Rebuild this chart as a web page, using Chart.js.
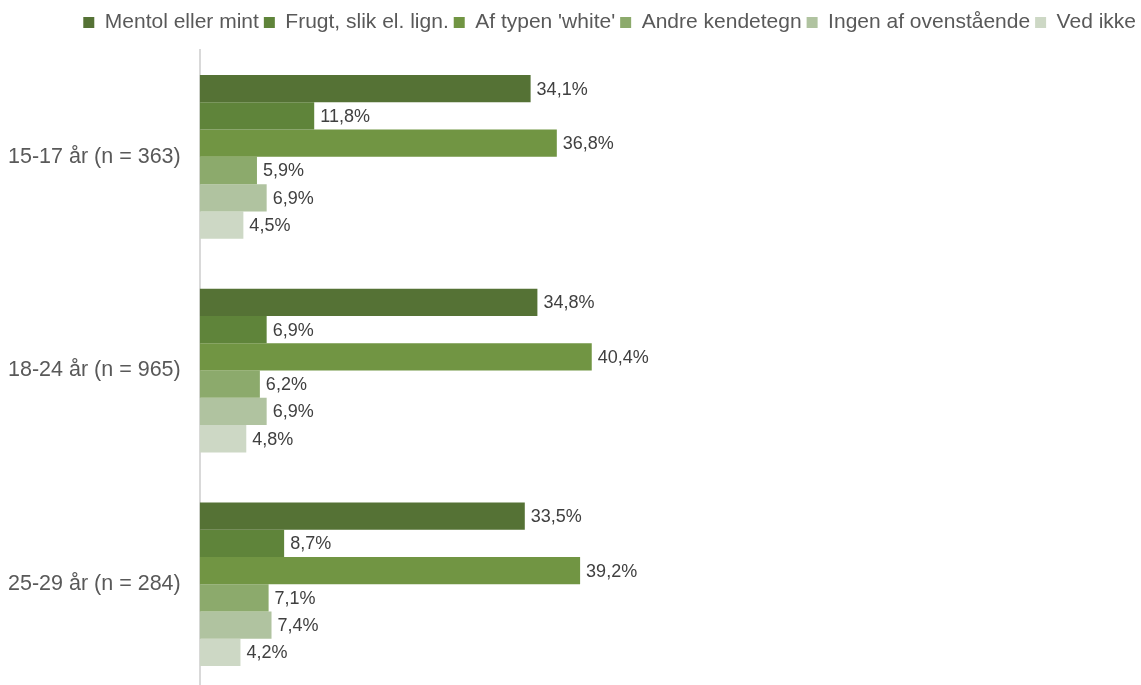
<!DOCTYPE html>
<html>
<head>
<meta charset="utf-8">
<script src="https://cdn.jsdelivr.net/npm/chart.js@4/dist/chart.umd.min.js"></script>
<style>
  html, body { margin: 0; padding: 0; background: #fff; overflow: hidden; }
  #wrap { width: 1141px; height: 715px; position: relative; }
</style>
</head>
<body>
<div id="wrap"><canvas id="myChart"></canvas></div>
<script>
'use strict';
// Kategorier og serier
const groups = ['15-17 år (n = 363)', '18-24 år (n = 965)', '25-29 år (n = 284)'];
const seriesNames = ['Mentol eller mint', 'Frugt, slik el. lign.', "Af typen 'white'", 'Andre kendetegn', 'Ingen af ovenstående', 'Ved ikke'];
const mentol = [34.1, 34.8, 33.5];
const frugt = [11.8, 6.9, 8.7];
const white = [36.8, 40.4, 39.2];
const andre = [5.9, 6.2, 7.1];
const ingen = [6.9, 6.9, 7.4];
const vedIkke = [4.5, 4.8, 4.2];
const colors = ['#557235', '#5f843a', '#719543', '#8caa6c', '#b0c3a0', '#cdd8c5'];

const allSeries = [mentol, frugt, white, andre, ingen, vedIkke];
const FONT = '"Liberation Sans", Arial, sans-serif';

// Viser procentværdier efter hver søjle
const valueLabels = {
    id: 'valueLabels',
    afterDatasetsDraw(chart) {
        const ctx = chart.ctx;
        ctx.save();
        ctx.font = '18px ' + FONT;
        ctx.fillStyle = '#404040';
        ctx.textAlign = 'left';
        ctx.textBaseline = 'middle';
        chart.data.datasets.forEach(function (ds, i) {
            chart.getDatasetMeta(i).data.forEach(function (bar, j) {
                const txt = ds.data[j].toFixed(1).replace('.', ',') + '%';
                ctx.fillText(txt, bar.x + 6, bar.y + 1);
            });
        });
        ctx.restore();
    }
};

// Ekstra luft under forklaringen
const legendGap = {
    id: 'legendGap',
    beforeLayout(chart) {
        const lg = chart.legend;
        if (!lg || lg._gapPatched) return;
        const fit = lg.fit;
        lg.fit = function () {
            fit.call(this);
            this.height += 7;
        };
        lg._gapPatched = true;
    }
};

new Chart(document.getElementById('myChart'), {
    type: 'bar',
    data: {
        labels: groups,
        datasets: allSeries.map(function (vals, i) {
            return {
                label: seriesNames[i],
                data: vals,
                backgroundColor: colors[i],
                borderWidth: 0,
                barPercentage: 1,
                categoryPercentage: 0.766
            };
        })
    },
    options: {
        indexAxis: 'y',
        responsive: true,
        maintainAspectRatio: false,
        animation: false,
        layout: { padding: { top: 7, right: 0, bottom: 0, left: -3 } },
        plugins: {
            tooltip: { enabled: false },
            legend: {
                position: 'top',
                align: 'end',
                labels: {
                    boxWidth: 11,
                    boxHeight: 11,
                    padding: 5,
                    color: '#595959',
                    font: { family: FONT, size: 21 }
                }
            }
        },
        scales: {
            x: {
                display: false,
                min: 0,
                max: 97
            },
            y: {
                grid: { display: false },
                border: { display: true, color: '#d9d9d9', width: 2 },
                ticks: {
                    color: '#595959',
                    padding: 11,
                    font: { family: FONT, size: 21.5 }
                }
            }
        }
    },
    plugins: [valueLabels, legendGap]
});
</script>
</body>
</html>
